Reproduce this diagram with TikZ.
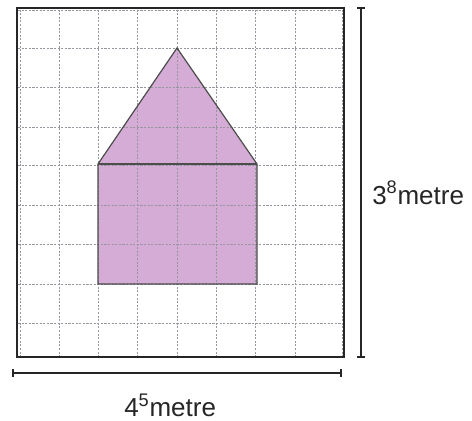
\documentclass[tikz,border=0pt]{standalone}
\usepackage{fontspec}
\setmainfont{Liberation Sans}
\definecolor{housefill}{RGB}{213,172,213}
\definecolor{gridcol}{RGB}{150,150,160}
\tikzset{
  gridline/.style={draw=gridcol, line width=0.7pt, dash pattern=on 1.6pt off 1.1pt},
  frameline/.style={draw=black!85, line width=1.9pt},
  houseline/.style={draw=black!70, line width=0.9pt},
  dimline/.style={draw=black!85, line width=1.1pt},
  lbl/.style={font=\fontsize{19.5}{22}\selectfont, text=black!85, inner sep=0pt, anchor=base west}
}
\begin{document}
\begin{tikzpicture}[x=0.75pt,y=-0.75pt]
\useasboundingbox (0,0) rectangle (472,421);
\fill[white] (0,0) rectangle (472,421);
% house fill
\coordinate (apex) at (177,48);
\coordinate (sl) at (98,164);
\coordinate (sr) at (257,164);
\coordinate (bl) at (98,284);
\coordinate (br) at (257,284);
\fill[housefill] (bl) -- (sl) -- (apex) -- (sr) -- (br) -- cycle;
% grid
\foreach \x in {20,59,98.4,137.7,177,216.3,255.6,295,342}
  \draw[gridline] (\x,9.5) -- (\x,356);
\foreach \y in {10,48,87,127,165,205,244,284,323}
  \draw[gridline] (18,\y) -- (343,\y);
% house outline
\draw[houseline] (bl) -- (sl) -- (apex) -- (sr) -- (br) -- cycle;
\draw[houseline] (sl) -- (sr);
% frame
\draw[frameline] (17,8) rectangle (344,357);
% vertical dimension
\coordinate (vt) at (361,8);
\coordinate (vb) at (361,357);
\draw[dimline] (vt) -- (vb);
\draw[dimline] ([xshift=-3pt]vt) -- ([xshift=3pt]vt);
\draw[dimline] ([xshift=-3pt]vb) -- ([xshift=3pt]vb);
% horizontal dimension
\coordinate (hl) at (13,373);
\coordinate (hr) at (341,373);
\draw[dimline] (hl) -- (hr);
\draw[dimline] ([yshift=-3pt]hl) -- ([yshift=3pt]hl);
\draw[dimline] ([yshift=-3pt]hr) -- ([yshift=3pt]hr);
% labels
\node[lbl] (hlabel) at (124,416.5) {4\textsuperscript{5}metre};
\node[lbl] (vlabel) at (372,204) {3\textsuperscript{8}metre};
\end{tikzpicture}
\end{document}
